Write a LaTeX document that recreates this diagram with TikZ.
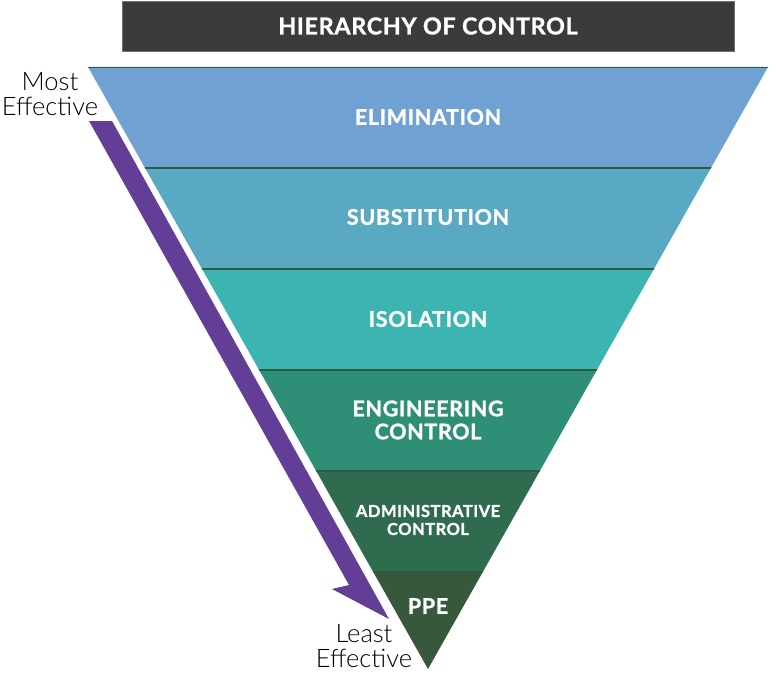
\documentclass[tikz,border=0pt]{standalone}
\usepackage{fontspec}
\setmainfont{Lato}
\newfontfamily\hdfont{Lato}[LetterSpace=3,BoldFeatures={FakeBold=1.2}]
\newfontfamily\lightfont{Lato Light}
\definecolor{elim}{HTML}{6FA2D2}
\definecolor{subst}{HTML}{59A9C3}
\definecolor{iso}{HTML}{3CB4B1}
\definecolor{eng}{HTML}{2F8F76}
\definecolor{admin}{HTML}{2E6B4F}
\definecolor{ppe}{HTML}{38583C}
\definecolor{sepline}{HTML}{2A5A40}
\definecolor{arrowpurple}{HTML}{633E97}
\definecolor{titlebg}{HTML}{3B3B3D}
\definecolor{titleedge}{HTML}{707070}
\begin{document}
\begin{tikzpicture}[x=1pt,y=-1pt,
  bandtext/.style={text=white,font=\hdfont\bfseries\fontsize{21.5}{24}\selectfont,align=center,inner sep=0pt},
  smalltext/.style={bandtext,font=\hdfont\bfseries\fontsize{16.5}{19}\selectfont},
  sidetext/.style={text=black,font=\lightfont\fontsize{25.5}{24.5}\selectfont,align=center,inner sep=0pt},
  sep/.style={draw=sepline,line width=1.6pt}]
\useasboundingbox (0,0) rectangle (783,674);
% title
\node[fill=titlebg,draw=titleedge,line width=0.8pt,minimum width=612pt,minimum height=50pt,inner sep=0pt,
  text=white,font=\hdfont\bfseries\fontsize{23.3}{28}\selectfont] (title) at (428,26) {HIERARCHY OF CONTROL};
% inverted triangle bands
\begin{scope}
  \clip (88,67) -- (768,67) -- (428,669) -- cycle;
  \fill[elim]  (80,60)  rectangle (780,168);
  \fill[subst] (80,168) rectangle (780,269);
  \fill[iso]   (80,269) rectangle (780,370);
  \fill[eng]   (80,370) rectangle (780,471);
  \fill[admin] (80,471) rectangle (780,572);
  \fill[ppe]   (80,572) rectangle (780,680);
  \draw[sep] (80,67.6) -- (780,67.6);
  \foreach \yy in {168,269,370,471,572} \draw[sep] (80,\yy) -- (780,\yy);
\end{scope}
% labels
\node[bandtext] (elimination) at (428,117) {ELIMINATION};
\node[bandtext] (substitution) at (428,217) {SUBSTITUTION};
\node[bandtext] (isolation) at (428,319) {ISOLATION};
\node[bandtext] (engineering) at (428,420) {ENGINEERING\\[-1pt]CONTROL};
\node[smalltext] (administrative) at (428,520) {ADMINISTRATIVE\\[-1pt]CONTROL};
\node[bandtext] (ppe) at (428,606) {PPE};
% purple arrow
\fill[arrowpurple] (89,121) -- (112,121) -- (389,619) -- (332,589) -- (349,585) -- cycle;
% side labels
\node[sidetext] (most) at (50,94) {Most\\Effective};
\node[sidetext] (least) at (364,646) {Least\\Effective};
\end{tikzpicture}
\end{document}
